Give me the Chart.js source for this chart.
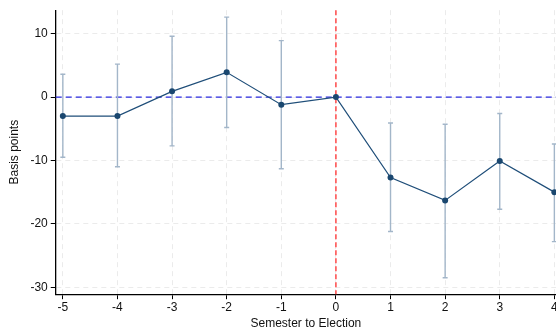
<!DOCTYPE html>
<html>
<head>
<meta charset="utf-8">
<script src="https://cdn.jsdelivr.net/npm/chart.js@4.4.0/dist/chart.umd.min.js"></script>
<style>
  html, body { margin: 0; padding: 0; background: #fff; overflow: hidden; }
  #wrap { width: 560px; height: 334px; }
</style>
</head>
<body>
<div id="wrap"><canvas id="myChart" width="560" height="334"></canvas></div>
<script>
// semesters relative to the election, point estimates and 95% CI
const semesters = [-5, -4, -3, -2, -1, 0, 1, 2, 3, 4];
const estimates = [-3.0, -3.0, 0.9, 3.9, -1.2, 0, -12.7, -16.3, -10.1, -15.0];
const ciUpper = [3.6, 5.2, 9.6, 12.6, 8.9, null, -4.1, -4.3, -2.6, -7.4];
const ciLower = [-9.5, -11.0, -7.7, -4.8, -11.3, null, -21.2, -28.5, -17.7, -22.8];
const yTicks = [-30, -20, -10, 0, 10];
const xTicks = [-5, -4, -3, -2, -1, 0, 1, 2, 3, 4];

const points = semesters.map((s, i) => ({ x: s, y: estimates[i] }));

const errorBars = {
    id: 'errorBars',
    beforeDatasetsDraw(chart) {
        const ctx = chart.ctx;
        const xs = chart.scales.x;
        const ys = chart.scales.y;
        const area = chart.chartArea;

        // reference lines
        ctx.save();
        ctx.lineWidth = 1.3;
        ctx.strokeStyle = '#2a2ae0';
        ctx.setLineDash([6, 4]);
        const y0 = ys.getPixelForValue(0);
        ctx.beginPath();
        ctx.moveTo(area.left, y0);
        ctx.lineTo(area.right, y0);
        ctx.stroke();

        ctx.strokeStyle = '#ff4a4a';
        ctx.lineWidth = 1.5;
        ctx.setLineDash([5, 3]);
        const x0 = xs.getPixelForValue(0);
        ctx.beginPath();
        ctx.moveTo(x0, area.top);
        ctx.lineTo(x0, area.bottom);
        ctx.stroke();
        ctx.restore();

        // confidence intervals
        ctx.save();
        ctx.strokeStyle = '#a3b6c9';
        ctx.lineWidth = 1.4;
        semesters.forEach((s, i) => {
            if (ciUpper[i] == null) return;
            const px = xs.getPixelForValue(s);
            const top = ys.getPixelForValue(ciUpper[i]);
            const bot = ys.getPixelForValue(ciLower[i]);
            ctx.beginPath();
            ctx.moveTo(px, top);
            ctx.lineTo(px, bot);
            ctx.moveTo(px - 2.5, top);
            ctx.lineTo(px + 2.5, top);
            ctx.moveTo(px - 2.5, bot);
            ctx.lineTo(px + 2.5, bot);
            ctx.stroke();
        });
        ctx.restore();
    }
};

const ctx = document.getElementById('myChart').getContext('2d');
window.myChart = new Chart(ctx, {
    type: 'scatter',
    data: {
        datasets: [{
            data: points,
            showLine: true,
            borderColor: '#1f4e79',
            backgroundColor: '#1a476f',
            borderWidth: 1.2,
            pointRadius: 3,
            pointBorderWidth: 0,
            pointBackgroundColor: '#1a476f'
        }]
    },
    options: {
        responsive: false,
        animation: false,
        layout: { padding: { top: 9, left: 7, right: 0, bottom: 3 } },
        plugins: {
            legend: { display: false },
            tooltip: { enabled: false }
        },
        scales: {
            x: {
                type: 'linear',
                min: -5.13,
                max: 4.03,
                afterBuildTicks: (scale) => { scale.ticks = xTicks.map(v => ({ value: v })); },
                ticks: {
                    color: '#111',
                    font: { family: 'Liberation Sans', size: 12 },
                    padding: 1,
                    maxRotation: 0
                },
                grid: {
                    color: '#ebebeb',
                    tickColor: '#000',
                    tickLength: 5,
                    lineWidth: 1
                },
                border: { color: '#000', width: 1.3, dash: [5, 4] },
                title: {
                    display: true,
                    text: 'Semester to Election',
                    color: '#111',
                    font: { family: 'Liberation Sans', size: 12 },
                    padding: { top: 1, bottom: 0 }
                }
            },
            y: {
                min: -31.1,
                max: 13.7,
                afterBuildTicks: (scale) => { scale.ticks = yTicks.map(v => ({ value: v })); },
                ticks: {
                    color: '#111',
                    font: { family: 'Liberation Sans', size: 12 },
                    padding: 3
                },
                grid: {
                    color: '#ebebeb',
                    tickColor: '#000',
                    tickLength: 5,
                    lineWidth: 1
                },
                border: { color: '#000', width: 1.3, dash: [5, 4] },
                title: {
                    display: true,
                    text: 'Basis points',
                    color: '#111',
                    font: { family: 'Liberation Sans', size: 12 },
                    padding: { top: 0, bottom: 6 }
                }
            }
        }
    },
    plugins: [errorBars]
});
</script>
</body>
</html>
